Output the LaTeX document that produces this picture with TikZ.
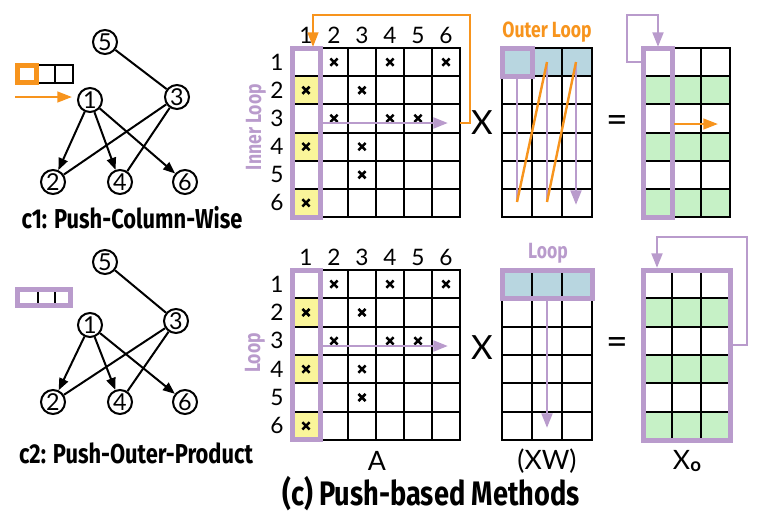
\documentclass[tikz,border=0pt]{standalone}
\usepackage{fontspec}
\setmainfont{Lato}
\newfontfamily\condf{Fira Sans}[FakeStretch=0.8]
\usetikzlibrary{arrows.meta}
\definecolor{pur}{HTML}{B99BCC}
\definecolor{org}{HTML}{F7941D}
\definecolor{yel}{HTML}{FAF59A}
\definecolor{blu}{HTML}{B8D6E0}
\definecolor{grn}{HTML}{C6F1C6}
\tikzset{
  xm/.pic={\draw[line width=1.9pt] (-3.6,-3.6)--(3.6,3.6) (-3.6,3.6)--(3.6,-3.6);},
  gl/.style={line width=1.5pt,line cap=rect},
  pbox/.style={draw=pur,line width=3.75pt},
  tip/.style={-{Triangle[length=11pt,width=8pt]}},
  parr/.style={draw=pur,line width=2.2pt,tip},
  pline/.style={draw=pur,line width=2.2pt},
  oline/.style={draw=org,line width=1.8pt},
  oarr/.style={draw=org,line width=1.8pt,tip},
  numf/.style={font=\fontsize{17}{17}\selectfont,inner sep=0pt},
  gnode/.style={circle,draw,line width=1.5pt,minimum size=18pt,inner sep=0pt,font=\fontsize{17.5}{17.5}\selectfont},
  gedge/.style={line width=1.5pt},
  garr/.style={line width=1.5pt,-{Triangle[length=9pt,width=7pt]}},
  cond/.style={font=\condf\bfseries\fontsize{20.5}{20.5}\selectfont,inner sep=0pt},
  loopl/.style={font=\condf\bfseries\fontsize{16.5}{16.5}\selectfont,inner sep=0pt},
  bigf/.style={font=\fontsize{25}{25}\selectfont,inner sep=0pt},
  labf/.style={font=\fontsize{20}{20}\selectfont,inner sep=0pt}
}
\newcommand\mymatA[4]{%
\begin{scope}[shift={(0,#1)}]
 \foreach \r in {2,4,6} \fill[yel] (292,{(\r-1)*#2}) rectangle (320,{\r*#2});
 \foreach \i in {0,...,6} \draw[gl] ({292+28*\i},0) -- ({292+28*\i},{6*#2});
 \foreach \j in {0,...,6} \draw[gl] (292,{\j*#2}) -- (460,{\j*#2});
 \foreach \c/\r in {2/1,4/1,6/1,1/2,3/2,2/3,4/3,5/3,1/4,3/4,3/5,1/6} \pic at ({278+28*\c},{(\r-0.5)*#2}) {xm};
 \foreach \c in {1,...,6} \node[numf] (#4c\c) at ({278+28*\c},-13) {\c};
 \foreach \r in {1,...,6} \node[numf] (#4r\r) at (277,{(\r-0.5)*#2}) {\r};
 \draw[pbox] (292,0) rectangle (320,{6*#2});
 \draw[parr] (320,{#3}) -- (448,{#3});
\end{scope}}
\newcommand\mymatB[2]{%
\begin{scope}[shift={(0,#1)}]
 \fill[blu] (502,0) rectangle (592,#2);
 \foreach \i in {0,...,3} \draw[gl] ({502+30*\i},0) -- ({502+30*\i},{6*#2});
 \foreach \j in {0,...,6} \draw[gl] (502,{\j*#2}) -- (592,{\j*#2});
\end{scope}}
\newcommand\mymatC[2]{%
\begin{scope}[shift={(0,#1)}]
 \foreach \r in {2,4,6} \fill[grn] (643,{(\r-1)*#2}) rectangle (730,{\r*#2});
 \foreach \i in {0,...,3} \draw[gl] ({643+29*\i},0) -- ({643+29*\i},{6*#2});
 \foreach \j in {0,...,6} \draw[gl] (643,{\j*#2}) -- (730,{\j*#2});
\end{scope}}
\begin{document}
\begin{tikzpicture}[x=0.75pt,y=-0.75pt]
\useasboundingbox (0,0) rectangle (761,519);
% ---------- top graph ----------
\node[gnode] (a5) at (105,42) {5};
\node[gnode] (a1) at (90,100) {1};
\node[gnode] (a3) at (177,97) {3};
\node[gnode] (a2) at (53,182) {2};
\node[gnode] (a4) at (120,182) {4};
\node[gnode] (a6) at (185,182) {6};
\draw[gedge] (a5) -- (a3);
\draw[gedge] (a3) -- (a2);
\draw[gedge] (a3) -- (a4);
\draw[garr] (a1) -- (a2);
\draw[garr] (a1) -- (a4);
\draw[garr] (a1) -- (a6);
\draw[gl] (38,65) rectangle (55,83) (55,65) rectangle (73,83);
\draw[draw=org,line width=3.75pt] (17.5,65.5) rectangle (36.5,82.5);
\coordinate (oin) at (15,97);
\draw[oarr] (oin) -- (72,97);
\node[cond] (c1) at (132,218) {c1: Push-Column-Wise};
% ---------- bottom graph ----------
\node[gnode] (b5) at (105,262) {5};
\node[gnode] (b1) at (90,325) {1};
\node[gnode] (b3) at (176,321) {3};
\node[gnode] (b2) at (53,402) {2};
\node[gnode] (b4) at (120,402) {4};
\node[gnode] (b6) at (185,402) {6};
\draw[gedge] (b5) -- (b3);
\draw[gedge] (b3) -- (b2);
\draw[gedge] (b3) -- (b4);
\draw[garr] (b1) -- (b2);
\draw[garr] (b1) -- (b4);
\draw[garr] (b1) -- (b6);
\draw[gl] (38,290) -- (38,305) (55,290) -- (55,305);
\draw[pbox] (17.5,289.5) rectangle (70.5,305.5);
\node[cond] (c2) at (136,453) {c2: Push-Outer-Product};
% ---------- top matrices ----------
\mymatA{48}{28.17}{75}{ta}
\draw[oarr] (460,123) -- (470,123) -- (470,15) -- (313,15) -- (313,47);
\node[loopl,text=pur,rotate=90] (il) at (256,127) {Inner Loop};
\node[bigf] (x1) at (482,123) {X};
\mymatB{48}{28.17}
\draw[pbox] (502,48) rectangle (532,76.17);
\draw[pline] (517,78) -- (517,202);
\draw[pline] (547,62) -- (547,202);
\draw[parr] (576,62) -- (576,205);
\draw[oline] (517,202) -- (547,62);
\draw[oline] (547,202) -- (576,62);
\node[loopl,text=org] (ol) at (547,32) {Outer Loop};
\node[bigf,font=\fontsize{28}{28}\selectfont] (eq1) at (617,124) {=};
\mymatC{48}{28.17}
\draw[pbox] (643,48) rectangle (672,217);
\draw[parr] (643,62) -- (627,62) -- (627,15) -- (658,15) -- (658,47);
\draw[oarr] (674,124) -- (718,124);
% ---------- bottom matrices ----------
\mymatA{270}{28.33}{76}{ba}
\node[loopl,text=pur,rotate=90] (lp) at (255,353) {Loop};
\node[bigf] (x2) at (482,348) {X};
\mymatB{270}{28.33}
\draw[pbox] (502,270) rectangle (592,298.33);
\draw[parr] (547,298) -- (547,428);
\node[loopl,text=pur] (lp2) at (548,253) {Loop};
\node[bigf,font=\fontsize{28}{28}\selectfont] (eq2) at (617,346) {=};
\mymatC{270}{28.33}
\draw[pbox] (643,270) rectangle (730,440);
\draw[parr] (730,345) -- (747,345) -- (747,237) -- (657,237) -- (657,268);
% ---------- labels ----------
\node[labf] (lA) at (377,461) {A};
\node[labf] (lXW) at (547,461) {(XW)};
\node[labf] (lXo) at (687,461) {X\raisebox{-1.5pt}{\fontsize{14}{14}\selectfont\bfseries o}};
\node[font=\condf\bfseries\fontsize{25.5}{25.5}\selectfont,inner sep=0pt] (title) at (431,494) {(c) Push-based Methods};
\end{tikzpicture}
\end{document}
